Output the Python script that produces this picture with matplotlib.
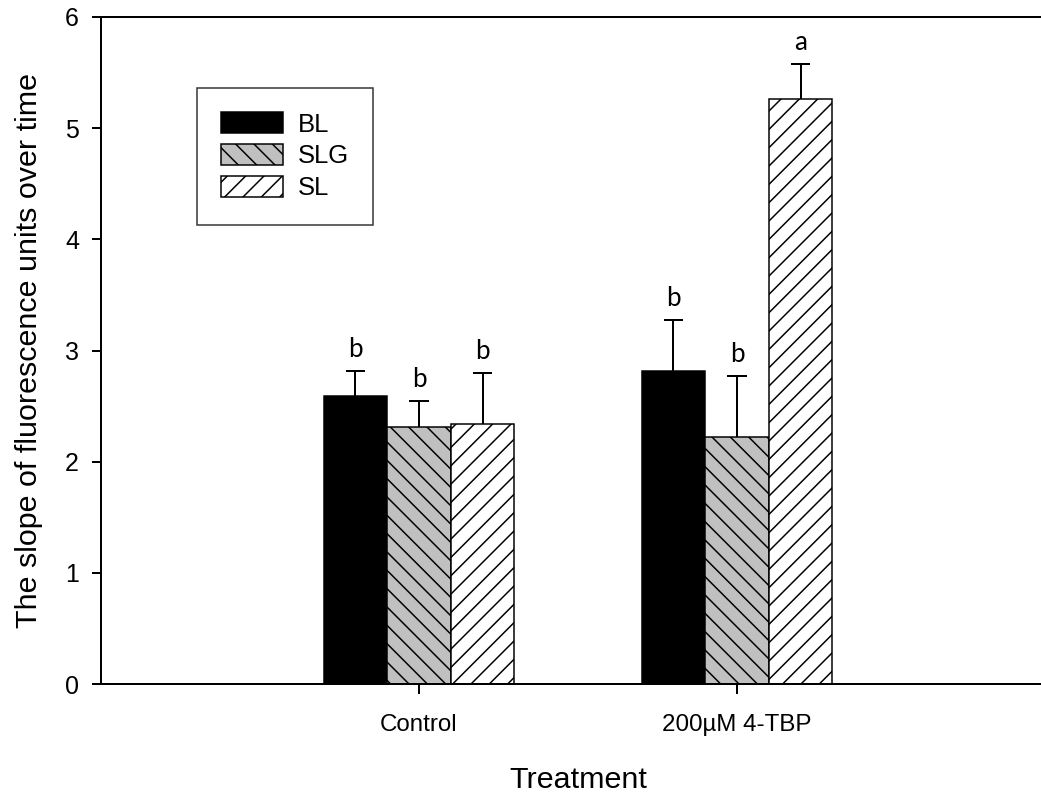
import matplotlib
matplotlib.use("Agg")
import matplotlib.pyplot as plt
import numpy as np

# Data
treatments = ["Control", "200\u00b5M 4-TBP"]
series = ["BL", "SLG", "SL"]
means = {
    "BL": [2.59, 2.82],
    "SLG": [2.31, 2.22],
    "SL": [2.34, 5.26],
}
errors = {
    "BL": [0.23, 0.45],
    "SLG": [0.24, 0.55],
    "SL": [0.46, 0.32],
}
letters = {
    "BL": ["b", "b"],
    "SLG": ["b", "b"],
    "SL": ["b", "a"],
}
y_ticks = [0, 1, 2, 3, 4, 5, 6]

# Styling
DPI = 110
PX = 72.0 / DPI  # points per pixel
styles = {
    "BL": dict(facecolor="black", hatch=None),
    "SLG": dict(facecolor="#c0c0c0", hatch="\\\\"),
    "SL": dict(facecolor="white", hatch="//"),
}

plt.rcParams["hatch.linewidth"] = 1.5 * PX
plt.rcParams["hatch.color"] = "black"
plt.rcParams["font.family"] = ["Liberation Sans", "DejaVu Sans"]

fig = plt.figure(figsize=(1041 / DPI, 797 / DPI), dpi=DPI)
W, H = 1041, 797
left, right, top, bottom = 101, 1055, 17, 684
ax = fig.add_axes([left / W, 1 - bottom / H, (right - left) / W, (bottom - top) / H])

x = np.arange(len(treatments)) + 1.0
width = 0.2
offsets = [-width, 0.0, width]
cap_half = 0.03

for name, off in zip(series, offsets):
    st = styles[name]
    xs = x + off
    ax.bar(xs, means[name], width, facecolor=st["facecolor"], edgecolor="black",
           linewidth=1.5 * PX, hatch=st["hatch"], label=name, zorder=2)
    tops = np.array(means[name]) + np.array(errors[name])
    ax.vlines(xs, means[name], tops, color="black", linewidth=2 * PX, zorder=3)
    ax.hlines(tops, xs - cap_half, xs + cap_half, color="black", linewidth=2 * PX, zorder=3)
    for xi, ti, lab in zip(xs, tops, letters[name]):
        ax.annotate(lab, (xi, ti), xytext=(0, 9 * PX), textcoords="offset points",
                    ha="center", va="bottom", fontsize=26 * PX,
                    family=["Lato", "DejaVu Sans"])

ax.set_xlim(0, 3)
ax.set_ylim(0, 6)
ax.set_xticks(x)
ax.set_xticklabels(treatments)
ax.set_yticks(y_ticks)
ax.set_yticklabels([str(t) for t in y_ticks])

for s in ax.spines.values():
    s.set_linewidth(2 * PX)

ax.tick_params(axis="y", direction="out", length=9 * PX, width=2 * PX,
               labelsize=25 * PX, pad=13 * PX)
ax.tick_params(axis="x", direction="out", length=10 * PX, width=2 * PX,
               labelsize=24.2 * PX, pad=20 * PX)

ax.set_xlabel("Treatment", fontsize=30.5 * PX, labelpad=30 * PX)
ax.set_ylabel("The slope of fluorescence units over time", fontsize=30.5 * PX,
              labelpad=22 * PX)

leg = ax.legend(loc="upper left", bbox_to_anchor=((197 - left) / (right - left), (bottom - 88) / (bottom - top)),
                fontsize=25.7 * PX, frameon=True, fancybox=False, edgecolor="black",
                handlelength=2.41, handleheight=0.85, handletextpad=0.55,
                labelspacing=0.3, borderpad=0.95, borderaxespad=0)
leg.get_frame().set_linewidth(1.5 * PX)

fig.savefig("out.png", dpi=DPI)
